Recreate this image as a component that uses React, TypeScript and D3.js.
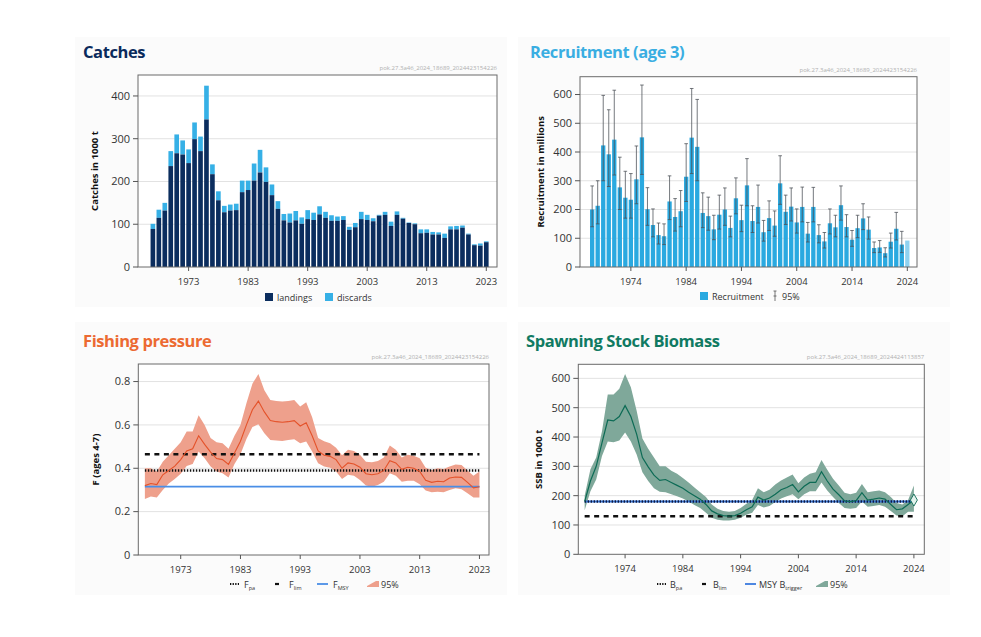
import React from 'react';
import * as d3 from 'd3';

const FONT = "'Open Sans', 'DejaVu Sans', sans-serif";

// ---------- Data ----------
const catchFirstYear = 1967;
const landings = [89,115,132,236,266,263,243,299,271,345, 217,156,128,132,133,175,180,202,221,199, 168,136,109,104,109,101,112,110,123,115, 108,108,110,87,93,112,110,107,120,122, 96,122,113,103,100,79,80,76,76,68, 88,88,92,76,51,50,58];
const discards = [12,19,18,35,44,33,32,39,34,79, 23,21,15,14,15,27,22,40,53,34, 25,18,15,21,22,15,21,17,19,14, 13,10,9,7,10,17,12,7,2,7, 10,8,2,1,2,9,8,6,5,10, 7,8,5,2,2,5,2];

const recFirstYear = 1967;
const recruitment = [200,213,423,392,443,277,241,234,305,451, 201,146,111,107,228,174,194,314,450,418, 188,177,131,182,200,136,239,163,284,160, 209,121,170,144,291,192,210,155,209,116, 209,111,89,152,138,215,139,95,135,169, 130,66,68,48,88,133,78,92];
const recHigh = [282,300,597,547,615,382,333,325,421,633, 276,202,153,150,317,238,266,429,621,583, 258,243,180,250,275,177,310,215,377,213, 285,162,230,195,387,250,275,202,278,155, 277,147,120,202,180,282,182,127,180,220, 174,87,92,67,118,190,124];
const recLow = [140,150,300,280,320,200,170,170,220,322, 145,105,80,78,165,125,140,228,325,300, 137,128,95,132,145,105,185,123,213,120, 153,90,127,107,218,148,160,118,157,87, 157,84,66,115,105,163,105,72,102,130, 97,50,51,35,66,94,50];

const fFirstYear = 1967;
const fishingF = [0.32,0.33,0.325,0.37,0.39,0.41,0.44,0.48,0.49,0.55, 0.51,0.475,0.445,0.44,0.418,0.47,0.525,0.6,0.67,0.71, 0.66,0.62,0.615,0.612,0.615,0.62,0.595,0.61,0.55,0.48, 0.46,0.455,0.44,0.4,0.425,0.42,0.405,0.375,0.37,0.375, 0.39,0.435,0.425,0.395,0.405,0.4,0.385,0.345,0.335,0.34, 0.338,0.355,0.36,0.358,0.335,0.31,0.315];
const fHigh = [0.40,0.40,0.385,0.43,0.46,0.49,0.52,0.57,0.57,0.645, 0.60,0.54,0.52,0.515,0.49,0.55,0.60,0.70,0.79,0.835, 0.76,0.715,0.71,0.708,0.71,0.715,0.685,0.705,0.635,0.54, 0.525,0.515,0.495,0.46,0.485,0.48,0.462,0.43,0.428,0.434, 0.45,0.505,0.485,0.45,0.462,0.458,0.446,0.403,0.392,0.40, 0.397,0.408,0.418,0.415,0.39,0.365,0.385];
const fLow = [0.258,0.27,0.265,0.30,0.33,0.35,0.375,0.41,0.42,0.477, 0.446,0.408,0.385,0.377,0.357,0.42,0.465,0.535,0.59,0.603, 0.562,0.53,0.528,0.526,0.53,0.534,0.515,0.523,0.477,0.423, 0.408,0.403,0.385,0.35,0.37,0.366,0.346,0.32,0.315,0.323, 0.338,0.377,0.366,0.338,0.343,0.342,0.326,0.297,0.289,0.292, 0.289,0.30,0.308,0.303,0.285,0.265,0.265];
const Fpa = 0.39;
const Flim = 0.465;
const Fmsy = 0.315;

const ssbFirstYear = 1967;
const ssb = [180,250,300,380,458,455,470,507,470,410, 330,298,270,252,255,245,235,225,212,200, 188,170,148,138,132,130,132,140,152,162, 195,185,192,205,220,228,238,213,232,245, 245,282,250,222,203,182,180,183,210,185, 188,192,188,170,152,155,170,185];
const ssbHigh = [200,290,330,420,545,545,565,615,570,490, 395,360,330,300,300,285,275,260,245,228, 212,195,170,155,148,145,148,158,172,185, 225,212,220,238,252,262,272,242,262,275, 280,322,288,258,235,210,205,210,240,212, 215,218,212,195,175,170,185,235];
const ssbLow = [150,215,255,335,385,382,388,415,385,340, 280,250,225,213,212,205,198,190,180,168, 158,142,125,118,115,115,118,125,135,142, 168,160,165,178,190,198,205,188,205,215, 215,245,218,195,175,158,155,158,180,162, 165,168,162,148,132,130,145,145];
const Bpa = 180;
const Blim = 130;
const MSYBtrigger = 180;

const ticksA = [1973, 1983, 1993, 2003, 2013, 2023];
const ticksB = [1974, 1984, 1994, 2004, 2014, 2024];
const catchTicks = [0, 100, 200, 300, 400];
const recTicks = [0, 100, 200, 300, 400, 500, 600];
const fTicks = [0, 0.2, 0.4, 0.6, 0.8];
const ssbTicks = [0, 100, 200, 300, 400, 500, 600];

// ---------- Frame ----------
type FrameProps = {
  x: d3.ScaleLinear<number, number>;
  y: d3.ScaleLinear<number, number>;
  xTicks: number[];
  yTicks: number[];
  yFmt: (v: number) => string;
  yTitle: string;
  yTitleX: number;
  title: string;
  titleColor: string;
  titleX: number;
  titleY: number;
  tag: string;
  children?: React.ReactNode;
};

function Frame(p: FrameProps) {
  const [x0, x1] = p.x.range();
  const [y1, y0] = p.y.range();
  const midY = (y0 + y1) / 2;
  return (
    <g>
      <text x={p.titleX} y={p.titleY} fontFamily={FONT} fontWeight={700} fontSize={16.5} fill={p.titleColor} letterSpacing={-0.4}>{p.title}</text>
      <text x={x1} y={y0 - 5} textAnchor="end" fontFamily={FONT} fontSize={6} fill="#b0b0b0">{p.tag}</text>
      <rect x={x0} y={y0} width={x1 - x0} height={y1 - y0} fill="#ffffff" />
      {p.yTicks.filter(t => t !== 0).map(t => (
        <line key={'g' + t} x1={x0} x2={x1} y1={p.y(t)} y2={p.y(t)} stroke="#e2e2e2" strokeWidth={1} />
      ))}
      <g>{p.children}</g>
      <rect x={x0} y={y0} width={x1 - x0} height={y1 - y0} fill="none" stroke="#6a6a6a" strokeWidth={1} />
      {p.yTicks.map(t => (
        <g key={'y' + t}>
          <line x1={x0 - 5} x2={x0} y1={p.y(t)} y2={p.y(t)} stroke="#555" strokeWidth={1} />
          <text x={x0 - 8} y={p.y(t)} dy="0.35em" textAnchor="end" fontFamily={FONT} fontSize={11} fill="#333">{p.yFmt(t)}</text>
        </g>
      ))}
      {p.xTicks.map(t => (
        <g key={'x' + t}>
          <line x1={p.x(t)} x2={p.x(t)} y1={y1} y2={y1 + 4} stroke="#555" strokeWidth={1} />
          <text x={p.x(t)} y={y1 + 18} textAnchor="middle" fontFamily={FONT} fontSize={9.5} fill="#333">{t}</text>
        </g>
      ))}
      <text transform={`translate(${p.yTitleX},${midY}) rotate(-90)`} textAnchor="middle" fontFamily={FONT} fontWeight={700} fontSize={9.5} fill="#111">{p.yTitle}</text>
    </g>
  );
}

// ---------- Panels ----------
function CatchesPanel() {
  const x = d3.scaleLinear().domain([1964.5, 2024.8]).range([138, 497]);
  const y = d3.scaleLinear().domain([0, 449]).range([267, 75]);
  const step = x(1) - x(0);
  const bw = step * 0.78;
  return (
    <Frame x={x} y={y} xTicks={ticksA} yTicks={catchTicks} yFmt={d3.format('d')} yTitle="Catches in 1000 t" yTitleX={98}
      title="Catches" titleColor="#0a2a5c" titleX={83} titleY={58} tag="pok.27.3a46_2024_18689_2024423154226">
      {landings.map((v, i) => {
        const yr = catchFirstYear + i;
        const tot = v + discards[i];
        return (
          <g key={yr}>
            <rect x={x(yr) - bw / 2} y={y(tot)} width={bw} height={y(v) - y(tot)} fill="#36b0e6" />
            <rect x={x(yr) - bw / 2} y={y(v)} width={bw} height={y(0) - y(v)} fill="#0b2d5e" />
          </g>
        );
      })}
      <g fontFamily={FONT} fontSize={9} fill="#333">
        <rect x={265} y={293} width={8} height={8} fill="#0b2d5e" />
        <text x={277} y={300.5}>landings</text>
        <rect x={325} y={293} width={8} height={8} fill="#36b0e6" />
        <text x={337} y={300.5}>discards</text>
      </g>
    </Frame>
  );
}

function RecruitmentPanel() {
  const x = d3.scaleLinear().domain([1964.8, 2025.75]).range([580, 917]);
  const y = d3.scaleLinear().domain([0, 662]).range([267, 76.7]);
  const step = x(1) - x(0);
  const bw = step * 0.78;
  return (
    <Frame x={x} y={y} xTicks={ticksB} yTicks={recTicks} yFmt={d3.format('d')} yTitle="Recruitment in millions" yTitleX={544}
      title="Recruitment (age 3)" titleColor="#3aaee2" titleX={530} titleY={58} tag="pok.27.3a46_2024_18689_2024423154226">
      {recruitment.map((v, i) => {
        const yr = recFirstYear + i;
        const last = i === recruitment.length - 1;
        return (
          <rect key={yr} x={x(yr) - bw / 2} y={y(v)} width={bw} height={y(0) - y(v)} fill={last ? '#8fd2f0' : '#2aa9e0'} />
        );
      })}
      {recHigh.map((hi, i) => {
        const yr = recFirstYear + i;
        const lo = recLow[i];
        const cx = x(yr);
        return (
          <g key={'e' + yr} stroke="#4a4f55" strokeWidth={0.9} strokeOpacity={0.85}>
            <line x1={cx} x2={cx} y1={y(hi)} y2={y(lo)} />
            <line x1={cx - 1.8} x2={cx + 1.8} y1={y(hi)} y2={y(hi)} />
            <line x1={cx - 1.8} x2={cx + 1.8} y1={y(lo)} y2={y(lo)} />
          </g>
        );
      })}
      <g fontFamily={FONT} fontSize={9} fill="#333">
        <rect x={700} y={292} width={8} height={8} fill="#2aa9e0" />
        <text x={712} y={299.5}>Recruitment</text>
        <g stroke="#555" strokeWidth={0.8}>
          <line x1={775} x2={775} y1={291} y2={301} />
          <line x1={773.5} x2={776.5} y1={291} y2={291} />
          <line x1={773.5} x2={776.5} y1={296} y2={296} />
        </g>
        <text x={782} y={299.5}>95%</text>
      </g>
    </Frame>
  );
}

function FishingPanel() {
  const x = d3.scaleLinear().domain([1965.9, 2024.6]).range([138.3, 489]);
  const y = d3.scaleLinear().domain([0, 0.881]).range([555, 364]);
  const yrs = fishingF.map((_, i) => fFirstYear + i);
  const area = d3.area<number>().x(i => x(yrs[i])).y0(i => y(fLow[i])).y1(i => y(fHigh[i]));
  const line = d3.line<number>().x(i => x(yrs[i])).y(i => y(fishingF[i]));
  const idx = yrs.map((_, i) => i);
  const xa = x(yrs[0]);
  const xb = x(yrs[yrs.length - 1]);
  return (
    <Frame x={x} y={y} xTicks={ticksA} yTicks={fTicks} yFmt={v => (v === 0 ? '0' : d3.format('.1f')(v))} yTitle="F (ages 4-7)" yTitleX={99}
      title="Fishing pressure" titleColor="#ec6a32" titleX={83} titleY={347} tag="pok.27.3a46_2024_18689_2024423154226">
      <path d={area(idx) || ''} fill="#eea08c" />
      <line x1={xa} x2={xb} y1={y(Fmsy)} y2={y(Fmsy)} stroke="#4a8ee6" strokeWidth={1.8} />
      <line x1={xa} x2={xb} y1={y(Flim)} y2={y(Flim)} stroke="#111" strokeWidth={2.4} strokeDasharray="5,4.5" />
      <line x1={xa} x2={xb} y1={y(Fpa)} y2={y(Fpa)} stroke="#111" strokeWidth={2.6} strokeDasharray="1.4,1.6" />
      <path d={line(idx) || ''} fill="none" stroke="#e4522a" strokeWidth={1.1} />
      <g fontFamily={FONT} fontSize={9} fill="#333">
        <line x1={230} x2={239} y1={584} y2={584} stroke="#111" strokeWidth={2.2} strokeDasharray="1.3,1.3" />
        <text x={244} y={587.5}>F<tspan fontSize={5.5} dy={2}>pa</tspan></text>
        <line x1={275} x2={279} y1={584} y2={584} stroke="#111" strokeWidth={2.2} />
        <text x={289} y={587.5}>F<tspan fontSize={5.5} dy={2}>lim</tspan></text>
        <line x1={317} x2={328} y1={584} y2={584} stroke="#4a8ee6" strokeWidth={1.8} />
        <text x={333} y={587.5}>F<tspan fontSize={5.5} dy={2}>MSY</tspan></text>
        <path d="M367,586 L376,581 L379,581 L379,587 L367,587 Z" fill="#eea08c" />
        <text x={381} y={587.5}>95%</text>
      </g>
    </Frame>
  );
}

function SSBPanel() {
  const x = d3.scaleLinear().domain([1965.9, 2025.8]).range([578.3, 924.3]);
  const y = d3.scaleLinear().domain([0, 648]).range([554.3, 364.3]);
  const yrs = ssb.map((_, i) => ssbFirstYear + i);
  const idx = yrs.map((_, i) => i);
  const area = d3.area<number>().x(i => x(yrs[i])).y0(i => y(ssbLow[i])).y1(i => y(ssbHigh[i]));
  const line = d3.line<number>().x(i => x(yrs[i])).y(i => y(ssb[i]));
  const xa = x(yrs[0]);
  const xb = x(yrs[yrs.length - 1]);
  const last = yrs.length - 1;
  const diamond = d3.symbol().type(d3.symbolDiamond).size(42)() || '';
  return (
    <Frame x={x} y={y} xTicks={ticksB} yTicks={ssbTicks} yFmt={d3.format('d')} yTitle="SSB in 1000 t" yTitleX={542}
      title="Spawning Stock Biomass" titleColor="#107a62" titleX={526} titleY={347} tag="pok.27.3a46_2024_18689_2024424113857">
      <path d={area(idx) || ''} fill="#7fa89a" />
      <line x1={xa} x2={xb} y1={y(MSYBtrigger)} y2={y(MSYBtrigger)} stroke="#3a7ade" strokeWidth={2} />
      <line x1={xa} x2={xb} y1={y(Blim)} y2={y(Blim)} stroke="#111" strokeWidth={2.4} strokeDasharray="5,4.5" />
      <line x1={xa} x2={xb} y1={y(Bpa)} y2={y(Bpa)} stroke="#111a40" strokeWidth={2.4} strokeDasharray="1.4,1.6" />
      <path d={line(idx) || ''} fill="none" stroke="#0d6b55" strokeWidth={1.2} />
      <path d={diamond} transform={`translate(${x(yrs[last])},${y(ssb[last])})`} fill="#e2f2ec" stroke="#0d6b55" strokeWidth={0.9} />
      <g fontFamily={FONT} fontSize={9} fill="#333">
        <line x1={657} x2={666} y1={584} y2={584} stroke="#111" strokeWidth={2.2} strokeDasharray="1.3,1.3" />
        <text x={670} y={587.5}>B<tspan fontSize={5.5} dy={2}>pa</tspan></text>
        <line x1={702} x2={706} y1={584} y2={584} stroke="#111" strokeWidth={2.2} />
        <text x={713} y={587.5}>B<tspan fontSize={5.5} dy={2}>lim</tspan></text>
        <line x1={745} x2={756} y1={584} y2={584} stroke="#3a7ade" strokeWidth={1.8} />
        <text x={759} y={587.5}>MSY B<tspan fontSize={5.5} dy={2}>trigger</tspan></text>
        <path d="M816,586 L825,581 L828,581 L828,587 L816,587 Z" fill="#7fa89a" />
        <text x={830} y={587.5}>95%</text>
      </g>
    </Frame>
  );
}

export default function App() {
  return (
    <svg width={981} height={637} viewBox="0 0 981 637" style={{ position: 'absolute', left: 0, top: 0, background: '#ffffff' }}>
      <rect x={0} y={0} width={981} height={637} fill="#ffffff" />
      <rect x={75} y={37} width={432} height={270} fill="#fbfbfb" />
      <rect x={518} y={37} width={432} height={270} fill="#fbfbfb" />
      <rect x={75} y={322} width={432} height={273} fill="#fbfbfb" />
      <rect x={518} y={322} width={432} height={273} fill="#fbfbfb" />
      <CatchesPanel />
      <RecruitmentPanel />
      <FishingPanel />
      <SSBPanel />
    </svg>
  );
}
